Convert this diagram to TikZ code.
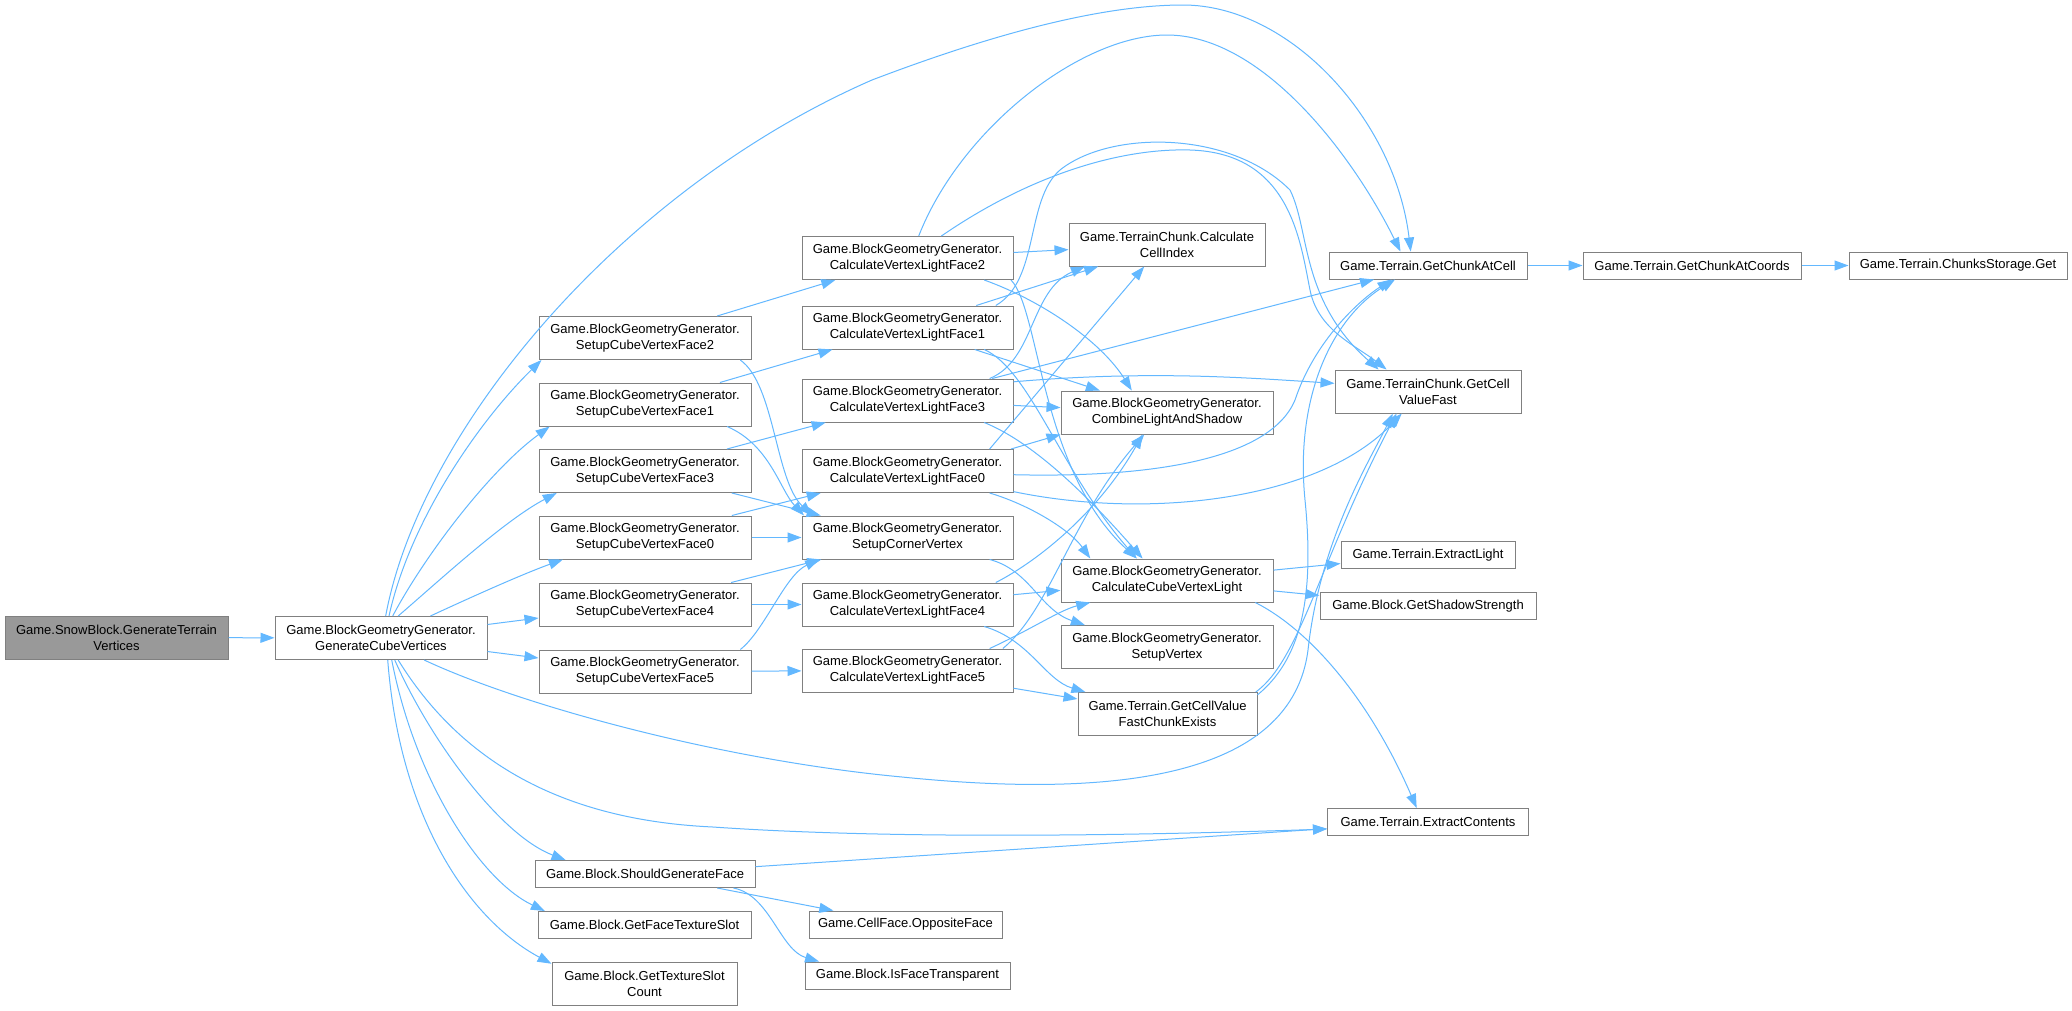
\documentclass[tikz,border=0pt]{standalone}
\usepackage{fontspec}
\setmainfont{Liberation Sans}
\usetikzlibrary{arrows.meta}
\definecolor{edgeblue}{RGB}{99,184,255}
\definecolor{boxgray}{RGB}{128,128,128}
\definecolor{rootgray}{RGB}{153,153,153}
\tikzset{
  fn/.style={draw=boxgray, fill=white, line width=1pt, inner sep=0pt, align=center, font=\fontsize{13}{16}\selectfont, minimum height=43},
  fnone/.style={fn, minimum height=27},
  call/.style={draw=edgeblue, line width=1pt, -{Triangle[length=14pt,width=10pt,fill=edgeblue]}}
}
\begin{document}
\begin{tikzpicture}[x=1pt,y=-1pt]
      \useasboundingbox[fill=white] (0,0) rectangle (2072,1010);
      \node[fn, fill=rootgray, minimum width=223] (snow) at (116.5,637.5) {Game.SnowBlock.GenerateTerrain\\Vertices};
      \node[fn, minimum width=212] (gcv) at (381,638) {Game.BlockGeometryGenerator.\\GenerateCubeVertices};
      \node[fn, minimum width=212] (face2) at (645,338) {Game.BlockGeometryGenerator.\\SetupCubeVertexFace2};
      \node[fn, minimum width=212] (face1) at (645,404.5) {Game.BlockGeometryGenerator.\\SetupCubeVertexFace1};
      \node[fn, minimum width=212] (face3) at (645,471) {Game.BlockGeometryGenerator.\\SetupCubeVertexFace3};
      \node[fn, minimum width=212] (face0) at (645,537.5) {Game.BlockGeometryGenerator.\\SetupCubeVertexFace0};
      \node[fn, minimum width=212] (face4) at (645,604.5) {Game.BlockGeometryGenerator.\\SetupCubeVertexFace4};
      \node[fn, minimum width=212] (face5) at (645,671.5) {Game.BlockGeometryGenerator.\\SetupCubeVertexFace5};
      \node[fnone, minimum width=220] (should) at (645,874) {Game.Block.ShouldGenerateFace};
      \node[fnone, minimum width=213] (facetex) at (644.5,925) {Game.Block.GetFaceTextureSlot};
      \node[fn, minimum width=185] (texcount) at (644.5,983.5) {Game.Block.GetTextureSlot\\Count};
      \node[fn, minimum width=211] (lf2) at (907.5,258) {Game.BlockGeometryGenerator.\\CalculateVertexLightFace2};
      \node[fn, minimum width=211] (lf1) at (907.5,327.5) {Game.BlockGeometryGenerator.\\CalculateVertexLightFace1};
      \node[fn, minimum width=211] (lf3) at (907.5,400.5) {Game.BlockGeometryGenerator.\\CalculateVertexLightFace3};
      \node[fn, minimum width=211] (lf0) at (907.5,471) {Game.BlockGeometryGenerator.\\CalculateVertexLightFace0};
      \node[fn, minimum width=211] (corner) at (907.5,537.5) {Game.BlockGeometryGenerator.\\SetupCornerVertex};
      \node[fn, minimum width=211] (lf4) at (907.5,604.5) {Game.BlockGeometryGenerator.\\CalculateVertexLightFace4};
      \node[fn, minimum width=211] (lf5) at (907.5,670.5) {Game.BlockGeometryGenerator.\\CalculateVertexLightFace5};
      \node[fnone, minimum width=193] (opposite) at (905.5,924.5) {Game.CellFace.OppositeFace};
      \node[fnone, minimum width=205] (transparent) at (907.5,975.5) {Game.Block.IsFaceTransparent};
      \node[fn, minimum width=196] (cellidx) at (1167,244.5) {Game.TerrainChunk.Calculate\\CellIndex};
      \node[fn, minimum width=212] (combine) at (1167,412.5) {Game.BlockGeometryGenerator.\\CombineLightAndShadow};
      \node[fn, minimum width=212] (cubelight) at (1167,580.5) {Game.BlockGeometryGenerator.\\CalculateCubeVertexLight};
      \node[fn, minimum width=212] (setupvertex) at (1167,647) {Game.BlockGeometryGenerator.\\SetupVertex};
      \node[fn, minimum width=179] (exists) at (1167.5,714) {Game.Terrain.GetCellValue\\FastChunkExists};
      \node[fnone, minimum width=198] (chunkcell) at (1428,265.5) {Game.Terrain.GetChunkAtCell};
      \node[fnone, minimum width=218] (coords) at (1692,265.5) {Game.Terrain.GetChunkAtCoords};
      \node[fnone, minimum width=218] (storage) at (1958,265.5) {Game.Terrain.ChunksStorage.Get};
      \node[fn, minimum width=186] (cellfast) at (1428,391.5) {Game.TerrainChunk.GetCell\\ValueFast};
      \node[fnone, minimum width=174] (light) at (1428,555) {Game.Terrain.ExtractLight};
      \node[fnone, minimum width=216] (shadow) at (1428,606) {Game.Block.GetShadowStrength};
      \node[fnone, minimum width=201] (contents) at (1428,822) {Game.Terrain.ExtractContents};
      \draw[call] (snow) to (gcv);
      \draw[call] (gcv.78) .. controls (420,430) and (620,190) .. (872,80) .. controls (990,35) and (1100,5) .. (1183,5) .. controls (1290,5) and (1395,120) .. (chunkcell.141);
      \draw[call] (gcv.70) .. controls (410,520) and (480,420) .. (face2.-168);
      \draw[call] (gcv.62) .. controls (425,555) and (490,470) .. (face1.-167);
      \draw[call] (gcv.52) .. controls (440,580) and (505,520) .. (face3.-166);
      \draw[call] (gcv.24) .. controls (465,600) and (520,575) .. (face0.-165);
      \draw[call] (gcv) to (face4); \draw[call] (gcv) to (face5);
      \draw[call] (gcv.-58) .. controls (430,740) and (500,835) .. (should.170);
      \draw[call] (gcv.-64) .. controls (415,780) and (480,880) .. (facetex.172);
      \draw[call] (gcv.-73) .. controls (400,820) and (470,920) .. (texcount.168);
      \draw[call] (gcv.-52) .. controls (460,760) and (560,820) .. (713,827) .. controls (900,840) and (1150,835) .. (contents.-176);
      \draw[call] (gcv.-27) .. controls (520,705) and (720,760) .. (902,777) .. controls (1080,795) and (1290,790) .. (1308,650) .. controls (1320,540) and (1370,460) .. (cellfast.-148);
      \draw[call] (face2) to (lf2);
      \draw[call] (face2.-13) .. controls (775,385) and (775,480) .. (corner.167);
      \draw[call] (face1) to (lf1);
      \draw[call] (face1.-15) .. controls (770,445) and (780,490) .. (corner.168);
      \draw[call] (face3) to (lf3); \draw[call] (face3) to (corner);
      \draw[call] (face0) to (lf0); \draw[call] (face0) to (corner);
      \draw[call] (face4) to (corner); \draw[call] (face4) to (lf4);
      \draw[call] (face5.13) .. controls (765,630) and (785,575) .. (corner.-166);
      \draw[call] (face5) to (lf5);
      \draw[call] (lf2) to (cellidx);
      \draw[call] (lf2.63) .. controls (960,130) and (1080,35) .. (1167,35) .. controls (1260,35) and (1350,150) .. (chunkcell.153);
      \draw[call] (lf2.33) .. controls (1030,175) and (1120,148) .. (1190,150) .. controls (1290,153) and (1300,240) .. (1310,290) .. controls (1318,330) and (1355,345) .. (cellfast.152);
      \draw[call] (lf2.-16) .. controls (1040,300) and (1100,340) .. (combine.148);
      \draw[call] (lf2.-12) .. controls (1040,310) and (1040,470) .. (cubelight.144);
      \draw[call] (lf1) to (cellidx);
      \draw[call] (lf1.14) .. controls (1040,280) and (1025,200) .. (1060,170) .. controls (1110,130) and (1230,130) .. (1290,190) .. controls (1310,230) and (1300,300) .. (cellfast.156);
      \draw[call] (lf1) to (combine);
      \draw[call] (lf1.-16) .. controls (1030,370) and (1060,470) .. (cubelight.144);
      \draw[call] (lf3) to (chunkcell);
      \draw[call] (lf3.15) .. controls (1035,360) and (1030,290) .. (cellidx.-165);
      \draw[call] (lf3.10) .. controls (1150,370) and (1250,378) .. (cellfast.175);
      \draw[call] (lf3) to (combine);
      \draw[call] (lf3.-16) .. controls (1040,445) and (1100,510) .. (cubelight.138);
      \draw[call] (lf0.15) to (cellidx.-136);
      \draw[call] (lf0.12) to (combine.south west);
      \draw[call] (lf0.-2) .. controls (1150,478) and (1270,460) .. (1295,400) .. controls (1315,340) and (1360,300) .. (chunkcell.-159);
      \draw[call] (lf0.-11) .. controls (1150,520) and (1320,500) .. (cellfast.-140);
      \draw[call] (lf0.-15) .. controls (1030,505) and (1070,530) .. (cubelight.164);
      \draw[call] (corner.-15) .. controls (1030,570) and (1040,610) .. (setupvertex.165);
      \draw[call] (lf4) to (cubelight);
      \draw[call] (lf4.14) .. controls (1040,560) and (1100,510) .. (combine.-138);
      \draw[call] (lf4.-16) .. controls (1030,640) and (1045,680) .. (exists.165);
      \draw[call] (lf5.15) .. controls (1030,630) and (1060,610) .. (cubelight.-164);
      \draw[call] (lf5.13) .. controls (1050,610) and (1070,520) .. (combine.-136);
      \draw[call] (lf5) to (exists);
      \draw[call] (cubelight) to (light); \draw[call] (cubelight) to (shadow);
      \draw[call] (cubelight.-14) .. controls (1310,630) and (1370,700) .. (contents.129);
      \draw[call] (exists.12) .. controls (1300,660) and (1315,600) .. (1305,500) .. controls (1295,400) and (1330,320) .. (chunkcell.-157);
      \draw[call] (exists.14) .. controls (1300,660) and (1320,560) .. (cellfast.-145);
      \draw[call] (chunkcell) to (coords); \draw[call] (coords) to (storage);
      \draw[call] (should) to (contents); \draw[call] (should) to (opposite);
      \draw[call] (should.-9) .. controls (770,895) and (780,950) .. (transparent.171);
    \end{tikzpicture}
\end{document}
